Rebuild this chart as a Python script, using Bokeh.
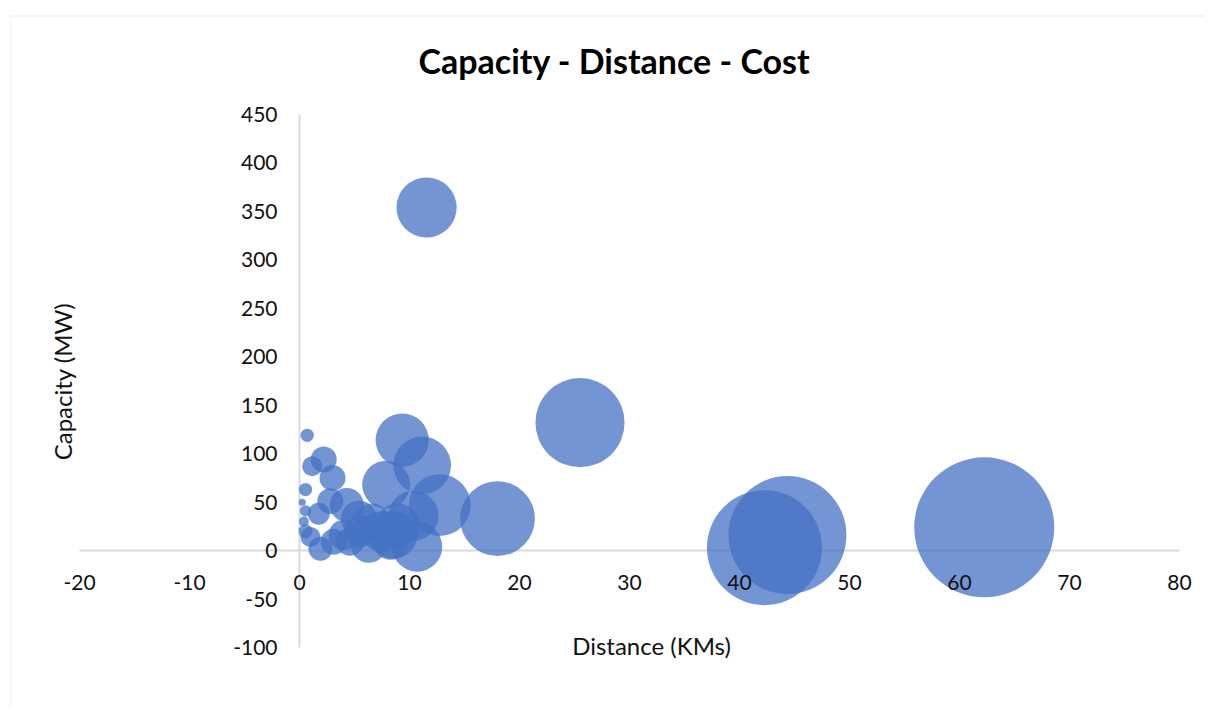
import numpy as np
from bokeh.plotting import figure
from bokeh.models import ColumnDataSource, Label, Range1d, BoxAnnotation
from bokeh.core.properties import value
from bokeh.embed import file_html
from bokeh.resources import INLINE

# ---- data ----
distance = [62.25, 44.36, 42.27, 25.5, 18.0, 11.55, 9.34, 11.15, 7.88, 12.75,
            10.36, 10.7, 8.55, 0.7, 2.2, 1.15, 3.0, 0.55, 0.25, 0.55,
            2.8, 4.3, 1.75, 0.4, 0.55, 1.0, 1.9, 3.1, 4.0, 5.4,
            6.3, 7.4, 8.9, 8.3, 5.5, 4.6, 6.6]
capacity = [24, 16, 3, 132, 33, 354, 114, 88, 68, 47,
            36, 4, 16.5, 119, 94, 87, 75, 63, 50, 41,
            51, 47, 38, 30, 20, 14, 2, 9, 16, 33,
            6, 20, 26, 9, 20, 9, 30]
cost = [200, 142, 135, 81, 57, 37, 29, 34, 23.5, 39,
        25.5, 25.5, 23.5, 1.8, 6.9, 4.1, 6.9, 1.8, 0.5, 1.3,
        6.9, 11.8, 4.9, 1.0, 2.0, 4.1, 5.9, 6.9, 9.2, 13.2,
        13.2, 16.3, 19.8, 13.2, 10.4, 8.0, 13.2]
x_ticks = [-20, -10, 0, 10, 20, 30, 40, 50, 60, 70, 80]
y_ticks = [-100, -50, 0, 50, 100, 150, 200, 250, 300, 350, 400, 450]

title_text = "Capacity - Distance - Cost"
x_title = "Distance (KMs)"
y_title = "Capacity (MW)"

# ---- layout (page pixels) ----
W, H = 1205, 707
PAGE_L, PAGE_T = 0, 0
X0_PX, X1_PX = 79, 1179      # pixel of first / last x tick
Y0_PX, Y1_PX = 647, 114      # pixel of first / last y tick

sx = (X1_PX - X0_PX) / (x_ticks[-1] - x_ticks[0])
sy = (Y0_PX - Y1_PX) / (y_ticks[-1] - y_ticks[0])
x_start = x_ticks[0] - (X0_PX - PAGE_L) / sx
x_end = x_start + W / sx
y_end = y_ticks[-1] + (Y1_PX - PAGE_T) / sy
y_start = y_end - H / sy


def dx(px):
    return x_start + (px - PAGE_L) / sx


def dy(py):
    return y_end - (py - PAGE_T) / sy


FONT = "Lato"

# bubble area proportional to cost (largest bubble ~140 px across)
cost_arr = np.array(cost, dtype=float)
sizes = 140.0 * np.sqrt(cost_arr / cost_arr.max())
source = ColumnDataSource(dict(x=distance, y=capacity, cost=cost, size=sizes))

p = figure(width=W, height=H, title=None,
           x_range=Range1d(x_start, x_end), y_range=Range1d(y_start, y_end),
           x_axis_location=None, y_axis_location=None,
           min_border=0, output_backend="svg", toolbar_location=None)
p.outline_line_color = None
p.grid.visible = False
p.background_fill_color = "white"
p.border_fill_color = "white"

# chart-area border (left and top edges visible)
p.add_layout(BoxAnnotation(left=10, left_units="screen", right=W + 20, right_units="screen",
                           top=H - 15.5, top_units="screen", bottom=-20, bottom_units="screen",
                           fill_color=None, line_color="#d9d9d9", line_width=2))

# axes crossing at (0, 0)
axis_src = ColumnDataSource(dict(x0=[x_ticks[0], 0], y0=[0, y_ticks[0]],
                                 x1=[x_ticks[-1], 0], y1=[0, y_ticks[-1]]))
p.segment(x0="x0", y0="y0", x1="x1", y1="y1", source=axis_src,
          line_color="#d9d9d9", line_width=2)

p.scatter(x="x", y="y", size="size", source=source,
          fill_color="#4472C4", fill_alpha=0.75, line_color=None)

# tick labels
xt_src = ColumnDataSource(dict(x=x_ticks, y=[0] * len(x_ticks), t=[str(v) for v in x_ticks]))
yt_src = ColumnDataSource(dict(x=[0] * len(y_ticks), y=y_ticks, t=[str(v) for v in y_ticks]))
p.text(x="x", y="y", text="t", source=xt_src, text_align="center", text_baseline="middle",
       y_offset=32, text_font=value(FONT), text_font_size="21px", text_color="#111111")
p.text(x="x", y="y", text="t", source=yt_src, text_align="right", text_baseline="middle",
       x_offset=-22, text_font=value(FONT), text_font_size="21px", text_color="#111111")

# titles
p.add_layout(Label(x=dx(614), y=dy(60), text=title_text, text_align="center",
                   text_baseline="middle", text_font=FONT,
                   text_font_style="bold", text_font_size="34px", text_color="#000000"))
p.add_layout(Label(x=dx(651), y=dy(645), text=x_title, text_align="center",
                   text_baseline="middle", text_font=FONT,
                   text_font_size="24px", text_color="#111111"))
p.add_layout(Label(x=dx(62), y=dy(381), text=y_title, text_align="center",
                   text_baseline="middle", text_font=FONT,
                   text_font_size="24px", text_color="#111111", angle=np.pi / 2))

open("out.html", "w").write(file_html(p, INLINE))
